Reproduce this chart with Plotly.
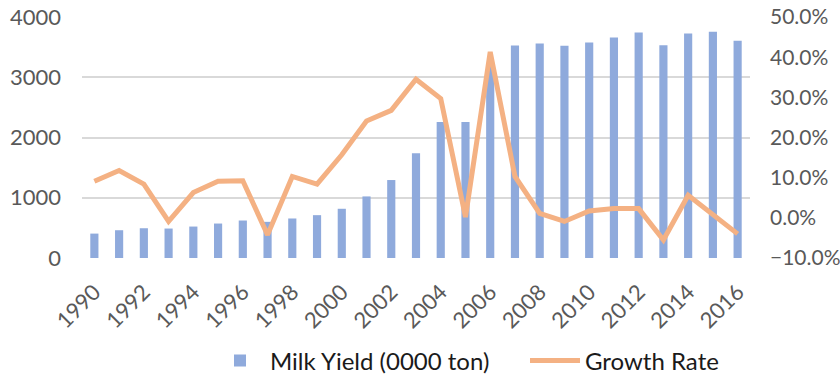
import plotly.graph_objects as go

# Annual milk yield (0000 ton) and year-on-year growth rate
years = list(range(1990, 2017))
milk_yield = [405, 461, 494, 489, 522, 572, 622, 600, 656, 711, 817, 1022, 1294, 1739,
              2256, 2256, 3190, 3528, 3561, 3522, 3578, 3661, 3744, 3533, 3728, 3756, 3606]
growth_rate = [0.091, 0.118, 0.084, -0.009, 0.063, 0.091, 0.0925, -0.0425, 0.103, 0.084,
               0.157, 0.241, 0.2675, 0.345, 0.297, 0.002, 0.413, 0.103, 0.011, -0.009,
               0.017, 0.023, 0.023, -0.055, 0.056, 0.009, -0.040]

BAR_COLOR = "#8FAADC"
LINE_COLOR = "#F4B183"
TICK_COLOR = "#595959"
FONT = "Lato, Noto Sans, sans-serif"

fig = go.Figure()
fig.add_trace(go.Bar(
    x=years, y=milk_yield, name="Milk Yield (0000 ton)",
    marker=dict(color=BAR_COLOR, line=dict(width=0)),
    yaxis="y",
))
fig.add_trace(go.Scatter(
    x=years, y=growth_rate, name="Growth Rate", mode="lines",
    line=dict(color=LINE_COLOR, width=5),
    yaxis="y2",
))

fig.update_layout(
    width=840, height=377,
    margin=dict(l=82, r=90, t=17, b=119),
    paper_bgcolor="white", plot_bgcolor="white",
    bargap=0.67,
    font=dict(family=FONT, size=20, color=TICK_COLOR),
    xaxis=dict(
        range=[1989.5, 2016.5], tick0=1990, dtick=2, tickangle=-45,
        showgrid=False, showline=False, ticks="", zeroline=False,
        automargin=False, ticklabelstandoff=16,
        tickfont=dict(size=22, color=TICK_COLOR),
    ),
    yaxis=dict(
        range=[0, 4000], dtick=1000, showgrid=True, gridcolor="#D9D9D9", gridwidth=1.5,
        zeroline=False, showline=False, ticks="", ticklabelstandoff=20,
        automargin=False,
        tickfont=dict(size=22, color=TICK_COLOR),
    ),
    yaxis2=dict(
        range=[-0.1, 0.5], dtick=0.1, tickformat=".1%", overlaying="y", side="right",
        showgrid=False, zeroline=False, showline=False, ticks="", ticklabelstandoff=19,
        automargin=False,
        tickfont=dict(size=21, color=TICK_COLOR),
    ),
    showlegend=True,
    legend=dict(
        orientation="h", x=0.235, xanchor="left",
        yref="container", y=1 - 361 / 377, yanchor="middle",
        font=dict(size=24, color="#1a1a1a"), itemwidth=50,
        entrywidth=250, entrywidthmode="pixels",
        bgcolor="rgba(0,0,0,0)",
    ),
)

fig.write_html("out.html")
